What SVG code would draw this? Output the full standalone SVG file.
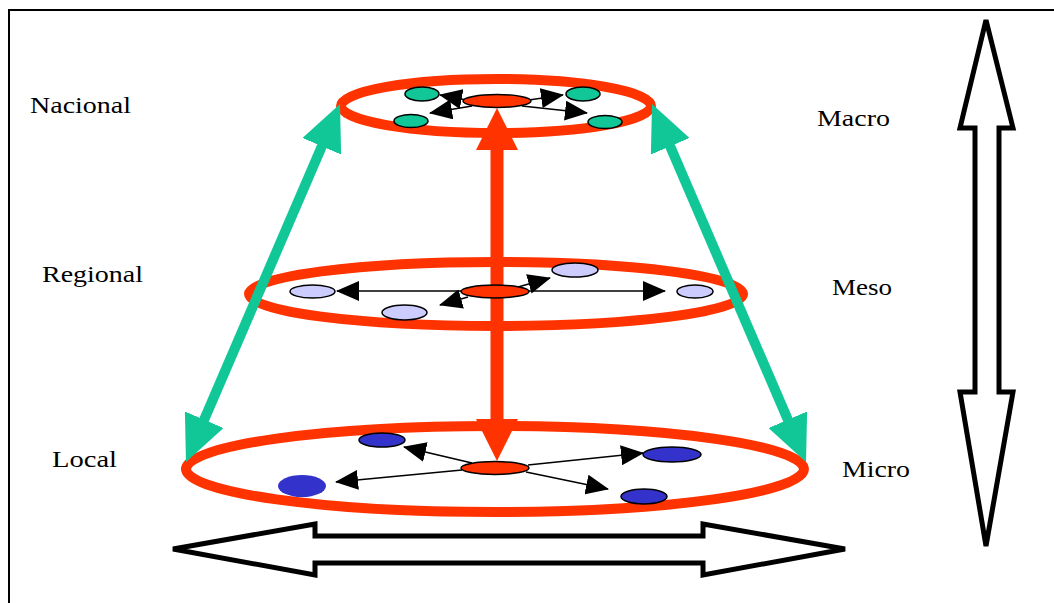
<svg xmlns="http://www.w3.org/2000/svg" width="1054" height="603" viewBox="0 0 1054 603">
<defs>
<style>
.lbl{font-family:"Liberation Serif","Times New Roman",serif;font-size:24px;fill:#000}
.ring{fill:none;stroke:#ff3300;stroke-width:10}
.hub{fill:#ff3300;stroke:#000;stroke-width:1.5}
.gn{fill:#11c797;stroke:#000;stroke-width:1.5}
.lv{fill:#ccccff;stroke:#000;stroke-width:1.5}
.nv{fill:#3333cc;stroke:#000;stroke-width:1.5}
.thin{stroke:#000;stroke-width:1.5;fill:none;marker-end:url(#bh)}
.outline{fill:#fff;stroke:#000;stroke-width:5;stroke-linejoin:miter}
</style>
<marker id="bh" markerUnits="userSpaceOnUse" viewBox="0 0 23 20" refX="22" refY="10" markerWidth="23" markerHeight="20" orient="auto"><path d="M0,0 L23,10 L0,20 z" fill="#000"/></marker>
<marker id="gh" markerUnits="userSpaceOnUse" viewBox="0 0 46 42" refX="26" refY="21" markerWidth="46" markerHeight="42" orient="auto-start-reverse"><path d="M0,0 L46,21 L0,42 z" fill="#11c797"/></marker>
<marker id="rh" markerUnits="userSpaceOnUse" viewBox="0 0 42 42" refX="22" refY="21" markerWidth="42" markerHeight="42" orient="auto-start-reverse"><path d="M0,0 L42,21 L0,42 z" fill="#ff3300"/></marker>
</defs>
<rect width="1054" height="603" fill="#fff"/>
<path d="M9,603 V10 H1054" fill="none" stroke="#000" stroke-width="2"/>

<g id="level-macro">
<ellipse class="ring" cx="496" cy="106" rx="155" ry="27"/>
</g>
<g id="level-meso">
<ellipse class="ring" cx="496" cy="294" rx="247" ry="32"/>
</g>
<g id="level-micro">
<ellipse class="ring" cx="495" cy="469" rx="309" ry="43"/>
</g>

<g id="connectors">
<line x1="497" y1="128" x2="497" y2="441" stroke="#ff3300" stroke-width="13" marker-start="url(#rh)" marker-end="url(#rh)"/>
<line x1="332.1" y1="122.4" x2="193.9" y2="443.6" stroke="#11c797" stroke-width="10" marker-start="url(#gh)" marker-end="url(#gh)"/>
<line x1="659.9" y1="122.4" x2="798.1" y2="443.6" stroke="#11c797" stroke-width="10" marker-start="url(#gh)" marker-end="url(#gh)"/>
<line class="thin" x1="472" y1="101" x2="440" y2="95"/>
<line class="thin" x1="472" y1="106" x2="430" y2="113"/>
<line class="thin" x1="522" y1="101" x2="563" y2="95"/>
<line class="thin" x1="522" y1="106" x2="587" y2="113"/>
<line class="thin" x1="461" y1="291" x2="337" y2="291"/>
<line class="thin" x1="529" y1="291" x2="665" y2="291"/>
<line class="thin" x1="518" y1="287" x2="550" y2="278"/>
<line class="thin" x1="468" y1="297" x2="440" y2="305"/>
<line class="thin" x1="462" y1="470" x2="336" y2="482"/>
<line class="thin" x1="472" y1="463" x2="404" y2="447"/>
<line class="thin" x1="528" y1="465" x2="643" y2="453"/>
<line class="thin" x1="526" y1="472" x2="608" y2="489"/>
</g>

<g id="hub-macro"><ellipse class="hub" cx="497" cy="101" rx="34" ry="6.5"/></g>
<g id="n-macro-1"><ellipse class="gn" cx="422" cy="94" rx="17" ry="7"/></g>
<g id="n-macro-2"><ellipse class="gn" cx="583" cy="94" rx="17" ry="7"/></g>
<g id="n-macro-3"><ellipse class="gn" cx="411" cy="121" rx="17" ry="6.5"/></g>
<g id="n-macro-4"><ellipse class="gn" cx="605" cy="122" rx="17" ry="6.5"/></g>

<g id="hub-meso"><ellipse class="hub" cx="495" cy="291.5" rx="34" ry="6.5"/></g>
<g id="n-meso-1"><ellipse class="lv" cx="312.5" cy="291.5" rx="22.5" ry="6.5"/></g>
<g id="n-meso-2"><ellipse class="lv" cx="575" cy="270" rx="23" ry="7"/></g>
<g id="n-meso-3"><ellipse class="lv" cx="404.5" cy="312.5" rx="22.5" ry="7.5"/></g>
<g id="n-meso-4"><ellipse class="lv" cx="695" cy="291.5" rx="18" ry="6.5"/></g>

<g id="hub-micro"><ellipse class="hub" cx="495" cy="468" rx="34" ry="6.5"/></g>
<g id="n-micro-1"><ellipse class="nv" cx="382" cy="440" rx="23" ry="7"/></g>
<g id="n-micro-2"><ellipse class="nv" cx="672" cy="454.5" rx="29" ry="7.5"/></g>
<g id="n-micro-3"><ellipse class="nv" cx="644" cy="496.5" rx="23" ry="7.5"/></g>
<g id="n-micro-4"><ellipse fill="#3333cc" cx="302" cy="486" rx="24" ry="11"/></g>

<g id="scale-vertical"><path class="outline" d="M986,20 L1013,128 L999,128 L999,392 L1013,392 L986,546 L960,392 L975,392 L975,128 L960,128 Z"/></g>
<g id="scale-horizontal"><path class="outline" d="M173,549 L315,524 L315,536 L703,536 L703,524 L845,549 L703,575 L703,563 L315,563 L315,575 Z"/></g>

<g id="labels">
<text class="lbl" x="30" y="113" textLength="101" lengthAdjust="spacingAndGlyphs">Nacional</text>
<text class="lbl" x="42" y="282" textLength="101" lengthAdjust="spacingAndGlyphs">Regional</text>
<text class="lbl" x="52" y="467" textLength="65" lengthAdjust="spacingAndGlyphs">Local</text>
<text class="lbl" x="817" y="126" textLength="73" lengthAdjust="spacingAndGlyphs">Macro</text>
<text class="lbl" x="832" y="295" textLength="60" lengthAdjust="spacingAndGlyphs">Meso</text>
<text class="lbl" x="842" y="477" textLength="68" lengthAdjust="spacingAndGlyphs">Micro</text>
</g>
</svg>
